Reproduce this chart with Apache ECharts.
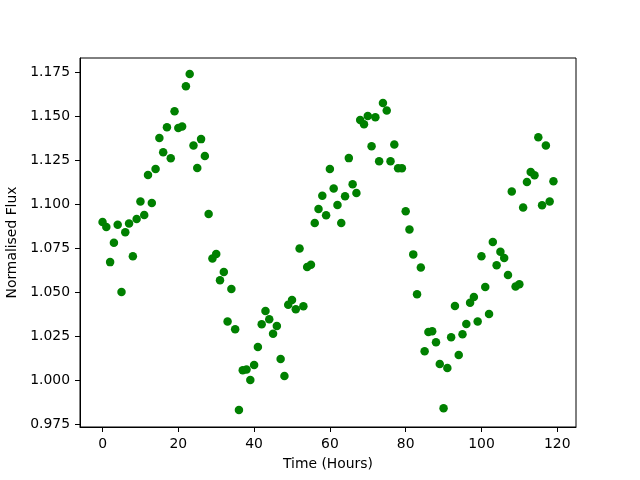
<!DOCTYPE html>
<html>
<head>
<meta charset="utf-8">
<script src="https://cdn.jsdelivr.net/npm/echarts@6/dist/echarts.min.js"></script>
<style>html,body{margin:0;padding:0;background:#fff}#c{width:640px;height:480px}</style>
</head>
<body>
<div id="c"></div>
<script>
const hours = Array.from({length:120},(_,i)=>i);
const flux = [
1.0898,1.0869,1.0670,1.0780,1.0882,1.0500,1.0840,1.0890,1.0703,1.0915,
1.1015,1.0938,1.1165,1.1006,1.1199,1.1375,1.1295,1.1436,1.1260,1.1528,
1.1432,1.1441,1.1669,1.1739,1.1333,1.1205,1.1369,1.1273,1.0943,1.0690,
1.0716,1.0567,1.0614,1.0333,1.0517,1.0288,0.9830,1.0055,1.0060,1.0000,
1.0085,1.0188,1.0317,1.0392,1.0345,1.0263,1.0307,1.0119,1.0023,1.0428,
1.0455,1.0402,1.0748,1.0419,1.0642,1.0655,1.0892,1.0972,1.1047,1.0936,
1.1199,1.1089,1.0994,1.0892,1.1045,1.1261,1.1112,1.1063,1.1477,1.1453,
1.1500,1.1328,1.1493,1.1243,1.1574,1.1532,1.1243,1.1339,1.1203,1.1203,
1.0959,1.0856,1.0714,1.0487,1.0640,1.0163,1.0273,1.0277,1.0214,1.0091,
0.9840,1.0068,1.0243,1.0420,1.0142,1.0260,1.0318,1.0439,1.0472,1.0333,
1.0703,1.0528,1.0375,1.0784,1.0652,1.0729,1.0693,1.0597,1.1072,1.0532,
1.0544,1.0981,1.1125,1.1182,1.1163,1.1379,1.0993,1.1333,1.1015,1.1129
];
const xTicks = [0,20,40,60,80,100,120];
const yTicks = [0.975,1.000,1.025,1.050,1.075,1.100,1.125,1.150,1.175];

const chart = echarts.init(document.getElementById('c'), null, {renderer:'canvas'});
const font = 'DejaVu Sans';
chart.setOption({
  animation:false,
  backgroundColor:'#fff',
  grid:{left:80,right:64,top:58,bottom:53,containLabel:false,outerBoundsMode:'none',show:true,borderColor:'#000',borderWidth:1,backgroundColor:'transparent'},
  xAxis:{
    type:'value', min:-5.95, max:124.95,
    name:'Time (Hours)', nameLocation:'middle', nameGap:30,
    nameTextStyle:{fontFamily:font,fontSize:13.9,color:'#000'},
    axisLine:{show:true,onZero:false,lineStyle:{color:'#000',width:1}},
    axisTick:{show:true,inside:false,length:5,lineStyle:{color:'#000',width:1},customValues:xTicks},
    axisLabel:{margin:10,fontFamily:font,fontSize:13.9,color:'#000',customValues:xTicks,formatter:v=>String(v)},
    splitLine:{show:false}
  },
  yAxis:{
    type:'value', min:0.9733, max:1.183,
    name:'Normalised Flux', nameLocation:'middle', nameGap:51,
    nameTextStyle:{fontFamily:font,fontSize:13.9,color:'#000'},
    axisLine:{show:true,onZero:false,lineStyle:{color:'#000',width:1}},
    axisTick:{show:true,inside:false,length:5,lineStyle:{color:'#000',width:1},customValues:yTicks},
    axisLabel:{margin:10,fontFamily:font,fontSize:13.9,color:'#000',customValues:yTicks,formatter:v=>v.toFixed(3)},
    splitLine:{show:false}
  },
  series:[{
    type:'scatter',
    data:hours.map((h,i)=>[h,flux[i]]),
    symbol:'circle', symbolSize:8.5,
    itemStyle:{color:'#008000',opacity:1},
    emphasis:{disabled:true}
  }]
});
</script>
</body>
</html>
